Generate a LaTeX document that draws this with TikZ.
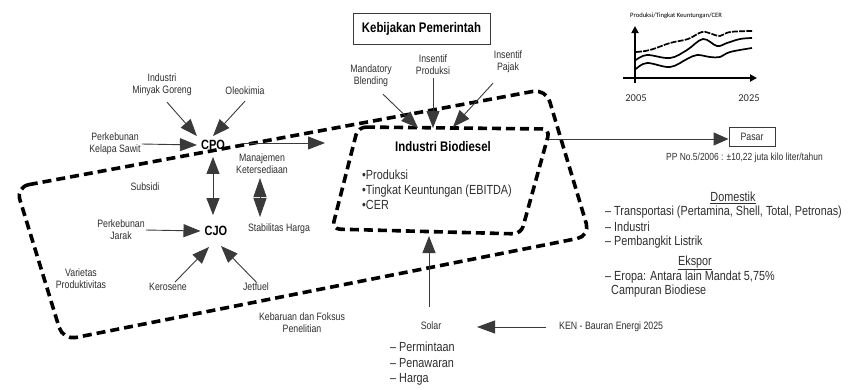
\documentclass[tikz,border=0pt]{standalone}
\usepackage{fontspec}
\setmainfont{Liberation Sans}[FakeStretch=0.82]
\newfontfamily\chartfont{Carlito}
\usetikzlibrary{arrows.meta}
\definecolor{txt}{HTML}{2E2E2E}
\definecolor{ln}{HTML}{3A3A3A}
\begin{document}
\begin{tikzpicture}[x=1pt,y=-1pt,
  lab/.style={font=\fontsize{10.7}{12}\selectfont, text=txt, align=center, inner sep=1pt},
  biglab/.style={font=\fontsize{13.2}{15}\selectfont, text=txt, inner sep=0pt, anchor=west},
  boldlab/.style={font=\bfseries\fontsize{13.4}{15}\selectfont, text=black, inner sep=4pt},
  arr/.style={-{Triangle[length=17pt,width=13pt]}, line width=0.9pt, draw=ln},
  darr/.style={{Triangle[length=17pt,width=13pt]}-{Triangle[length=17pt,width=13pt]}, line width=0.9pt, draw=ln},
  dbl/.style={{Triangle[length=19pt,width=13pt]}-{Triangle[length=19pt,width=13pt]}, line width=0.9pt, draw=ln},
  dashshape/.style={draw=black, dash pattern=on 9pt off 5pt, line width=3.6pt, line join=round},
  curve/.style={line width=1.7pt, draw=black}
]
\useasboundingbox (0,0) rectangle (848,389);

% big dashed shape
\draw[dashshape, rounded corners=13pt] (16,187) -- (546,89) -- (590,236) -- (63,340) -- cycle;
% inner dashed shape
\draw[dashshape, rounded corners=8pt] (358,127) -- (550,129) -- (521,234) -- (332,229) -- cycle;

% policy box
\node[draw=ln, line width=0.9pt, minimum width=137pt, minimum height=31pt, font=\bfseries\fontsize{13.9}{15}\selectfont, inner sep=0pt] (kp) at (421.5,28.5) {Kebijakan Pemerintah};
\node[lab] (mb) at (371,76) {Mandatory\\Blending};
\node[lab] (ip) at (433,65) {Insentif\\Produksi};
\node[lab] (ipj) at (508,62) {Insentif\\Pajak};
\coordinate (tipM) at (418,128);
\coordinate (tipP) at (433,128);
\coordinate (tipJ) at (453,127);
\draw[arr] ([shift={(12,6)}]mb.south) -- (tipM);
\draw[arr] ([shift={(0,2)}]ip.south) -- (tipP);
\draw[arr] ([shift={(-15,9)}]ipj.south) -- (tipJ);

% CPO cluster
\node[boldlab] (cpo) at (213,145) {CPO};
\node[lab] (perkKS) at (115,144) {Perkebunan\\Kelapa Sawit};
\node[lab] (img) at (162,85) {Industri\\Minyak Goreng};
\node[lab] (oleo) at (245,91) {Oleokimia};
\draw[arr] (perkKS.east) -- (cpo.west);
\draw[arr] ([shift={(5,5)}]img.south) -- (cpo.north west);
\draw[arr] ([shift={(0,5)}]oleo.south) -- (cpo.north);

\node[lab] (sub) at (145,187) {Subsidi};
\node[lab] (mk) at (262,164) {Manajemen\\Ketersediaan};
\node[lab] (sh) at (279,229) {Stabilitas Harga};
\coordinate (mkA) at (260,178);
\coordinate (mkB) at (260,217);
\draw[dbl] (mkA) -- (mkB);

\coordinate (bioL) at (325,143);
\draw[arr] ([xshift=13pt]cpo.east |- bioL) -- (bioL);

% CJO cluster
\node[boldlab] (cjo) at (216,231) {CJO};
\draw[darr, shorten <=3pt, shorten >=7pt] (cpo.south) -- (cpo.south |- cjo.north);
\node[lab] (perkJ) at (121,230) {Perkebunan\\Jarak};
\node[lab] (kero) at (168,287) {Kerosene};
\node[lab] (jet) at (256,287) {Jetfuel};
\coordinate (cjoK) at (209,247);
\coordinate (cjoJ) at (221,246);
\draw[arr] (perkJ.east) -- (cjo.west);
\draw[arr] ([shift={(7,0)}]kero.north) -- (cjoK);
\draw[arr] (jet.north) -- (cjoJ);
\node[lab] (var) at (81,279) {Varietas\\Produktivitas};
\node[lab] (keb) at (302,323) {Kebaruan dan Foksus\\Penelitian};

% Industri Biodiesel content
\node[font=\bfseries\fontsize{13.9}{15}\selectfont, inner sep=0pt] (bio) at (443,147) {Industri Biodiesel};
\node[biglab] (b1) at (362,175) {•Produksi};
\node[biglab] (b2) at (362,191) {•Tingkat Keuntungan (EBITDA)};
\node[biglab] (b3) at (362,205) {•CER};

% Pasar
\node[draw=ln, line width=0.9pt, lab, minimum width=46pt, minimum height=19pt, inner sep=0pt] (pasar) at (752,136.5) {Pasar};
\coordinate (bioR) at (549,139);
\draw[arr, -{Triangle[length=15pt,width=13pt]}] (bioR) -- (bioR -| pasar.west);
\node[lab, anchor=west, font=\fontsize{10.3}{11}\selectfont] (pp) at (665,158) {PP No.5/2006 : ±10,22 juta kilo liter/tahun};

\node[biglab, anchor=center] (dom) at (733,198) {\underline{Domestik}};
\node[biglab] (d1) at (605,212) {– Transportasi (Pertamina, Shell, Total, Petronas)};
\node[biglab] (d2) at (605,227) {– Industri};
\node[biglab] (d3) at (605,242) {– Pembangkit Listrik};
\node[biglab, anchor=center] (eks) at (695,263) {\underline{Ekspor}};
\node[biglab] (e1) at (605,277) {– Eropa: Antara lain Mandat 5,75\%};
\node[biglab] (e2) at (611,291) {Campuran Biodiese};

% Solar
\node[lab] (solar) at (431,326) {Solar};
\coordinate (bioB) at (429,236);
\draw[arr] ([shift={(-2,-14)}]solar.north) -- (bioB);
\node[biglab] (s1) at (390,347) {– Permintaan};
\node[biglab] (s2) at (390,363) {– Penawaran};
\node[biglab] (s3) at (390,379) {– Harga};
\node[lab, anchor=west] (ken) at (558,327) {KEN - Bauran Energi 2025};
\coordinate (kenTip) at (477,327);
\draw[arr, -{Triangle[length=18pt,width=13pt]}] ([xshift=-12pt]ken.west) -- (kenTip);

% chart
\node[anchor=west, inner sep=0pt, font=\chartfont\fontsize{6.6}{8}\selectfont] (ct) at (630,16) {Produksi/Tingkat Keuntungan/CER};
\coordinate (ybot) at (635,83);
\coordinate (ytop) at (635,26);
\coordinate (xbeg) at (623,78);
\coordinate (xend) at (757,78);
\draw[line width=1.8pt, -{Triangle[length=7pt,width=7pt]}] (ybot) -- (ytop);
\draw[line width=1.8pt, -{Triangle[length=7pt,width=7pt]}] (xbeg) -- (xend);
\draw[curve, dash pattern=on 6pt off 1.2pt] plot[smooth, tension=0.6] coordinates {(636,52) (650,50) (670,43) (688,39) (702,32) (712,34) (720,36) (730,32) (752,31)};
\draw[curve] plot[smooth, tension=0.6] coordinates {(636,60) (647,55) (670,58) (687,50) (703,39) (717,46) (727,43) (740,39) (752,38)};
\draw[curve] plot[smooth, tension=0.6] coordinates {(636,69) (647,63) (670,67) (687,59) (697,55) (710,57) (720,57) (730,52) (752,48)};
\node[font=\chartfont\fontsize{10.5}{12}\selectfont, text=txt] (y1) at (636,98) {2005};
\node[font=\chartfont\fontsize{10.5}{12}\selectfont, text=txt] (y2) at (749,98) {2025};
\end{tikzpicture}
\end{document}
